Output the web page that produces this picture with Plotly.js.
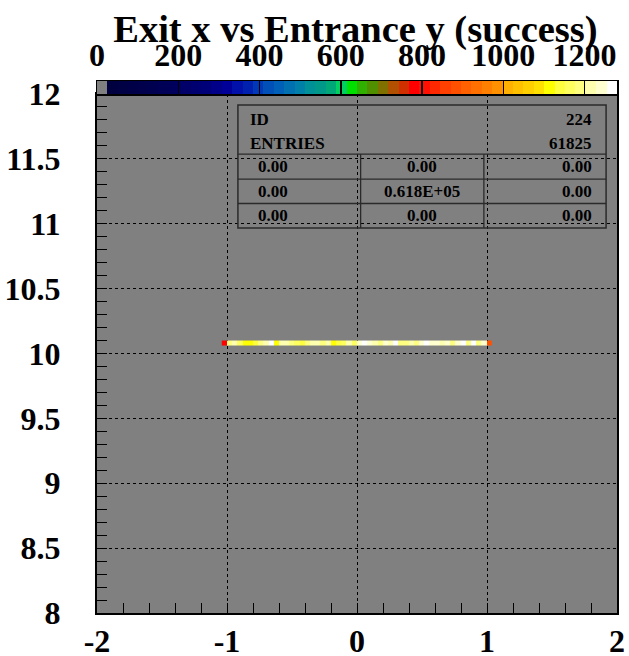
<!DOCTYPE html>
<html><head><meta charset="utf-8">
<script src="https://cdn.plot.ly/plotly-3.0.1.min.js"></script>
<style>html,body{margin:0;padding:0;background:#fff}#chart{width:629px;height:656px}</style>
</head><body><div id="chart"></div>
<script>
// ---- data (histogram ID 224: exit x vs entrance y, success) ----
const xBinLow = -1.04;
const xBinWidth = 0.04;
const yBinEdges = [10.06, 10.10];
const counts = [778, 1188, 1219, 1161, 1109, 1118, 1137, 1192, 1214, 1266,
                1120, 1211, 1222, 1185, 1168, 1141, 1194, 1209, 1218, 1187,
                1215, 1106, 1144, 1163, 1220, 1170, 1238, 1262, 1245, 1213,
                1191, 1240, 1217, 1270, 1186, 1193, 1212, 1189, 1244, 1265,
                1236, 1247, 1210, 1239, 1184, 1243, 1271, 1195, 1263, 1190,
                1241, 886];
const histId = '224';
const entries = '61825';
const statsRows = [['0.00', '0.00', '0.00'],
                   ['0.00', '0.618E+05', '0.00'],
                   ['0.00', '0.00', '0.00']];
const xTickVals = [-2, -1, 0, 1, 2];
const xTickLabels = ['-2', '-1', '0', '1', '2'];
const yTickVals = [8, 8.5, 9, 9.5, 10, 10.5, 11, 11.5, 12];
const yTickLabels = ['8', '8.5', '9', '9.5', '10', '10.5', '11', '11.5', '12'];
const zMax = 1280;
const cbTickVals = [0, 200, 400, 600, 800, 1000, 1200];
const cbTickLabels = ['0', '200', '400', '600', '800', '1000', '1200'];
const levelColors = ['#808080',
  '#000040', '#000044', '#000048', '#00004c', '#000050', '#000056', '#00005c', '#000068',
  '#000070', '#000078', '#000088', '#000098', '#0010a8', '#0020b0', '#0038b8',
  '#0050b8', '#0060b8', '#0070b0', '#0080a8', '#009098', '#009888', '#00a878',
  '#00d060', '#00e000', '#30b000', '#509000', '#807000', '#b05000', '#d03000',
  '#ff0000', '#ff1000', '#ff2800', '#ff4000', '#ff5000', '#ff6000', '#ff7000',
  '#ff8000', '#ff9000', '#ffb000', '#ffc000', '#ffd000', '#ffe000', '#ffff00',
  '#ffff40', '#ffff60', '#ffff80', '#ffffb0', '#ffffd0', '#ffffff'];

// ---- derived ----
const nLev = levelColors.length;
const colorscale = [];
levelColors.forEach((c, i) => { colorscale.push([i / nLev, c]); colorscale.push([(i + 1) / nLev, c]); });
const xEdges = [];
for (let i = 0; i <= counts.length; i++) xEdges.push(+(xBinLow + i * xBinWidth).toFixed(4));
const levelEdges = [], levelMids = [];
for (let i = 0; i <= nLev; i++) levelEdges.push(i * zMax / nLev);
for (let i = 0; i < nLev; i++) levelMids.push((i + 0.5) * zMax / nLev);

const F = 'Liberation Serif, Times New Roman, serif';
const bold = (size) => ({family: F, size: size, color: '#000', weight: 'bold'});

const traces = [
  {type: 'heatmap', x: xEdges, y: yBinEdges, z: [counts], xaxis: 'x', yaxis: 'y',
   colorscale: colorscale, zmin: 0, zmax: zMax, showscale: false, hoverinfo: 'skip'},
  {type: 'heatmap', x: levelEdges, y: [0, 1], z: [levelMids], xaxis: 'x2', yaxis: 'y2',
   colorscale: colorscale, zmin: 0, zmax: zMax, showscale: false, hoverinfo: 'skip'}
];

const mainTop = 519 / 532;
const lineC = '#2a2a2a';
// stats box geometry in axis-domain fractions
const bx0 = 0.271, bx1 = 0.979, by0 = 0.742, by1 = 0.979;
const hLines = [0.884, 0.836, 0.789];
const vLines = [0.507, 0.744];
const shapes = [
  {type: 'rect', xref: 'x domain', yref: 'y domain', x0: bx0, x1: bx1, y0: by0, y1: by1,
   line: {color: lineC, width: 1.5}, fillcolor: 'rgba(0,0,0,0)'}
];
hLines.forEach(y => shapes.push({type: 'line', xref: 'x domain', yref: 'y domain', x0: bx0, x1: bx1, y0: y, y1: y, line: {color: lineC, width: 1.3}}));
vLines.forEach(x => shapes.push({type: 'line', xref: 'x domain', yref: 'y domain', x0: x, x1: x, y0: by0, y1: hLines[0], line: {color: lineC, width: 1.3}}));

const tf = bold(17);
const ann = (text, x, y, xanchor) => ({text: text, x: x, y: y, xref: 'x domain', yref: 'y domain',
  xanchor: xanchor, yanchor: 'middle', showarrow: false, font: tf});
const annotations = [
  ann('ID', 0.29, 0.950, 'left'), ann(histId, 0.956, 0.950, 'right'),
  ann('ENTRIES', 0.29, 0.904, 'left'), ann(entries, 0.956, 0.904, 'right')
];
const rowY = [0.860, 0.813, 0.766];
statsRows.forEach((r, i) => {
  annotations.push(ann(r[0], 0.306, rowY[i], 'left'));
  annotations.push(ann(r[1], 0.625, rowY[i], 'center'));
  annotations.push(ann(r[2], 0.956, rowY[i], 'right'));
});

const layout = {
  width: 629, height: 656,
  margin: {l: 97, r: 12, t: 81, b: 43, pad: 0},
  paper_bgcolor: '#ffffff', plot_bgcolor: '#808080',
  showlegend: false,
  title: {text: 'Exit x vs Entrance y (success)', font: bold(38.5), x: 0.497, xref: 'paper', xanchor: 'center',
          y: 1 - 29 / 656, yref: 'container', yanchor: 'middle'},
  xaxis: {domain: [0, 1], anchor: 'y', range: [-2, 2], tickmode: 'array', tickvals: xTickVals, ticktext: xTickLabels,
          ticks: 'inside', ticklen: 10, tickwidth: 1, tickcolor: '#000',
          showgrid: true, gridcolor: '#000', griddash: 'dot', gridwidth: 1, zeroline: false,
          showline: true, linecolor: '#000', linewidth: 2, mirror: true,
          tickfont: bold(32), ticklabelstandoff: -1,
          minor: {tickmode: 'linear', tick0: -2, dtick: 0.2, ticks: 'inside', ticklen: 10, tickcolor: '#000', tickwidth: 1, showgrid: false}},
  yaxis: {domain: [0, mainTop], anchor: 'x', range: [8, 12], tickmode: 'array', tickvals: yTickVals, ticktext: yTickLabels,
          ticks: 'inside', ticklen: 10, tickwidth: 1, tickcolor: '#000',
          showgrid: true, gridcolor: '#000', griddash: 'dot', gridwidth: 1, zeroline: false,
          showline: true, linecolor: '#000', linewidth: 2, mirror: true,
          tickfont: bold(32), ticklabelstandoff: 28,
          minor: {tickmode: 'linear', tick0: 8, dtick: 0.1, ticks: 'inside', ticklen: 10, tickcolor: '#000', tickwidth: 1, showgrid: false}},
  xaxis2: {domain: [0, 1], anchor: 'y2', side: 'top', range: [0, zMax], tickmode: 'array', tickvals: cbTickVals, ticktext: cbTickLabels,
           ticks: 'inside', ticklen: 13, tickwidth: 1.5, tickcolor: '#000',
           showgrid: false, zeroline: false, showline: true, mirror: true, linecolor: '#000', linewidth: 1.5,
           tickfont: bold(32), ticklabelstandoff: 1},
  yaxis2: {domain: [mainTop, 1], anchor: 'x2', range: [0, 1], showticklabels: false, ticks: '',
           showgrid: false, zeroline: false, showline: true, mirror: true, linecolor: '#000', linewidth: 1.5},
  shapes: shapes,
  annotations: annotations
};

Plotly.newPlot('chart', traces, layout, {displayModeBar: false, staticPlot: true});
</script>
</body></html>
